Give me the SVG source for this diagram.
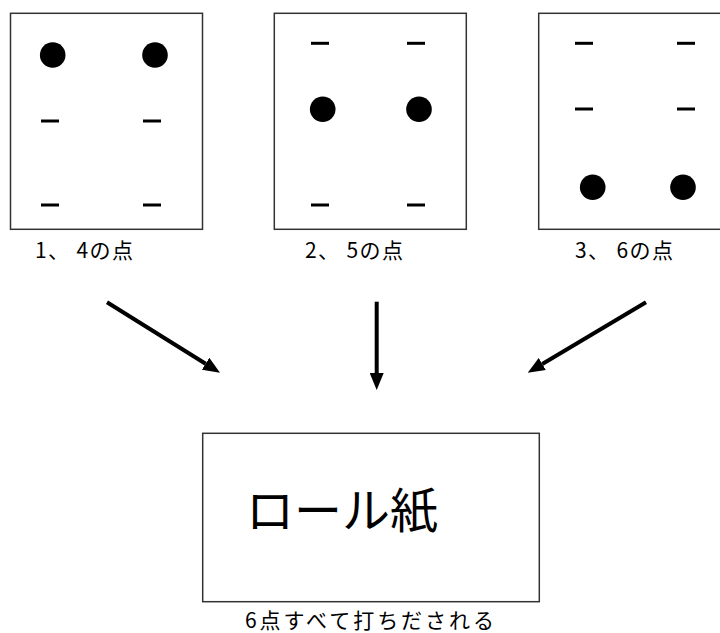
<svg xmlns="http://www.w3.org/2000/svg" width="720" height="633" viewBox="0 0 720 633">
<defs>
<style>
.box{fill:#fff;stroke:#333;stroke-width:1.5}
.dash{stroke:#000;stroke-width:3}
.dot{fill:#000}
.lbl{font-family:"Noto Sans CJK JP","Noto Sans",sans-serif;font-size:21px;fill:#000}
.big{font-family:"Noto Sans CJK JP","Noto Sans",sans-serif;font-size:48px;fill:#000}
.arr{stroke:#000;stroke-width:4;fill:none;marker-end:url(#head)}
</style>
<marker id="head" markerUnits="userSpaceOnUse" markerWidth="17" markerHeight="14" refX="0" refY="7" orient="auto">
<path d="M0,0 L17,7 L0,14 z" fill="#000"/>
</marker>
</defs>
<rect width="720" height="633" fill="#fff"/>
<g id="card1">
<rect class="box" x="10.5" y="13.3" width="192" height="216"/>
<circle class="dot" cx="52.7" cy="55" r="12.8"/>
<circle class="dot" cx="155" cy="55" r="12.8"/>
<line class="dash" x1="41" y1="121" x2="59" y2="121"/>
<line class="dash" x1="143" y1="121" x2="161" y2="121"/>
<line class="dash" x1="41" y1="205" x2="59" y2="205"/>
<line class="dash" x1="143" y1="205" x2="161" y2="205"/>
<text class="lbl" x="35" y="258" xml:space="preserve" textLength="98">1、 4の点</text>
</g>
<g id="card2">
<rect class="box" x="274.3" y="13.3" width="192" height="216"/>
<line class="dash" x1="311" y1="43.3" x2="329" y2="43.3"/>
<line class="dash" x1="407" y1="43.3" x2="425" y2="43.3"/>
<circle class="dot" cx="322.7" cy="109.3" r="12.8"/>
<circle class="dot" cx="419" cy="109.3" r="12.8"/>
<line class="dash" x1="311" y1="205" x2="329" y2="205"/>
<line class="dash" x1="407" y1="205" x2="425" y2="205"/>
<text class="lbl" x="305" y="258" xml:space="preserve" textLength="98">2、 5の点</text>
</g>
<g id="card3">
<rect class="box" x="538.7" y="13.3" width="192" height="216"/>
<line class="dash" x1="575" y1="43.3" x2="593" y2="43.3"/>
<line class="dash" x1="677" y1="43.3" x2="695" y2="43.3"/>
<line class="dash" x1="575" y1="109" x2="593" y2="109"/>
<line class="dash" x1="677" y1="109" x2="695" y2="109"/>
<circle class="dot" cx="592.7" cy="187.3" r="12.8"/>
<circle class="dot" cx="683" cy="187.3" r="12.8"/>
<text class="lbl" x="575" y="258" xml:space="preserve" textLength="98">3、 6の点</text>
</g>
<g id="connectors">
<line class="arr" x1="107" y1="302.3" x2="205.6" y2="363.7"/>
<line class="arr" x1="376.7" y1="301.7" x2="376.7" y2="373"/>
<line class="arr" x1="646" y1="302.3" x2="542.3" y2="364"/>
</g>
<g id="roll">
<rect class="box" x="202.7" y="433.3" width="336.6" height="168.4"/>
<text class="big" x="246" y="528">ロール紙</text>
<text class="lbl" x="245" y="628" textLength="249">6点すべて打ちだされる</text>
</g>
</svg>
